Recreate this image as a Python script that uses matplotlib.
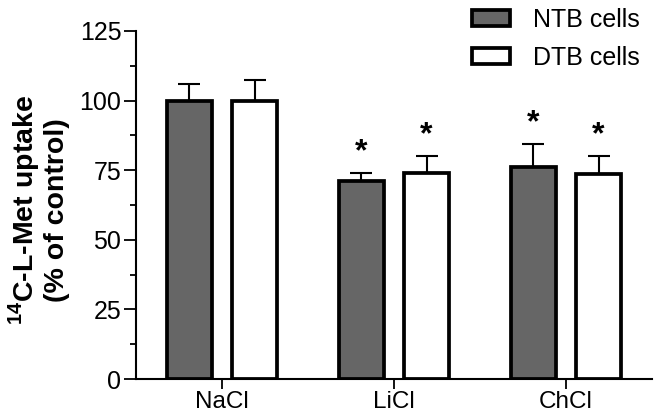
import matplotlib
matplotlib.use("Agg")
import matplotlib.pyplot as plt
import numpy as np

plt.rcParams['font.family'] = ['Liberation Sans', 'DejaVu Sans']
plt.rcParams['mathtext.fontset'] = 'custom'
plt.rcParams['mathtext.rm'] = 'Liberation Sans'
plt.rcParams['mathtext.bf'] = 'Liberation Sans:bold'

categories = ['NaCl', 'LiCl', 'ChCl']
series_names = ['NTB cells', 'DTB cells']
ntb_values = [100.0, 71.2, 76.3]
ntb_err = [5.9, 2.9, 8.2]
dtb_values = [100.0, 73.9, 73.5]
dtb_err = [7.3, 6.2, 6.5]
ntb_sig = [False, True, True]
dtb_sig = [False, True, True]
yticks = [0, 25, 50, 75, 100, 125]

fig = plt.figure(figsize=(6.6, 4.15), dpi=100)
ax = fig.add_axes([136/660, 1-379/415, (652-136)/660, 348/415])

x = np.arange(len(categories))
w = 0.256
off = 0.189
edge_lw = 2.7

for vals, errs, sig, color, sign, name in [
        (ntb_values, ntb_err, ntb_sig, '#666666', -1, series_names[0]),
        (dtb_values, dtb_err, dtb_sig, '#ffffff', 1, series_names[1])]:
    pos = x + sign * off
    ax.bar(pos, vals, width=w, color=color, edgecolor='black', linewidth=edge_lw,
           label=name, zorder=2)
    # upward-only error bars
    ax.errorbar(pos, vals, yerr=[np.zeros(len(vals)), errs], fmt='none',
                ecolor='black', elinewidth=1.5, capsize=8, capthick=1.5, zorder=1)
    for p, v, e, s in zip(pos, vals, errs, sig):
        if s:
            ax.annotate('*', xy=(p, v + e), xytext=(0, 4), textcoords='offset points',
                        ha='center', va='bottom', fontsize=23, fontweight='bold')

ax.set_xlim(-0.5, 2.5)
ax.set_ylim(0, 125)
ax.set_yticks(yticks)
ax.set_yticks(np.arange(12.5, 125, 25), minor=True)
ax.set_xticks(x)
ax.set_xticklabels(categories)
ax.tick_params(axis='y', which='major', length=8.6, width=1.3, labelsize=18, pad=2)
ax.tick_params(axis='y', which='minor', length=4.3, width=1.3)
ax.tick_params(axis='x', which='major', length=7, width=1.3, labelsize=17.5, pad=1.5)
for s in ['top', 'right']:
    ax.spines[s].set_visible(False)
for s in ['left', 'bottom']:
    ax.spines[s].set_linewidth(1.5)

fig.text(38/660, 1-210/415, r'$^{\mathbf{14}}$C-L-Met uptake' + '\n(% of control)',
         rotation=90, ha='center', va='center', fontsize=20.5, fontweight='bold',
         linespacing=1.1)

leg = ax.legend(loc='upper left', bbox_to_anchor=(472/660, 1-8/415),
                bbox_transform=fig.transFigure, frameon=False, fontsize=18,
                handlelength=1.52, handleheight=0.6, handletextpad=0.92,
                labelspacing=0.55, borderpad=0, borderaxespad=0)

fig.savefig('out.png', dpi=100)
